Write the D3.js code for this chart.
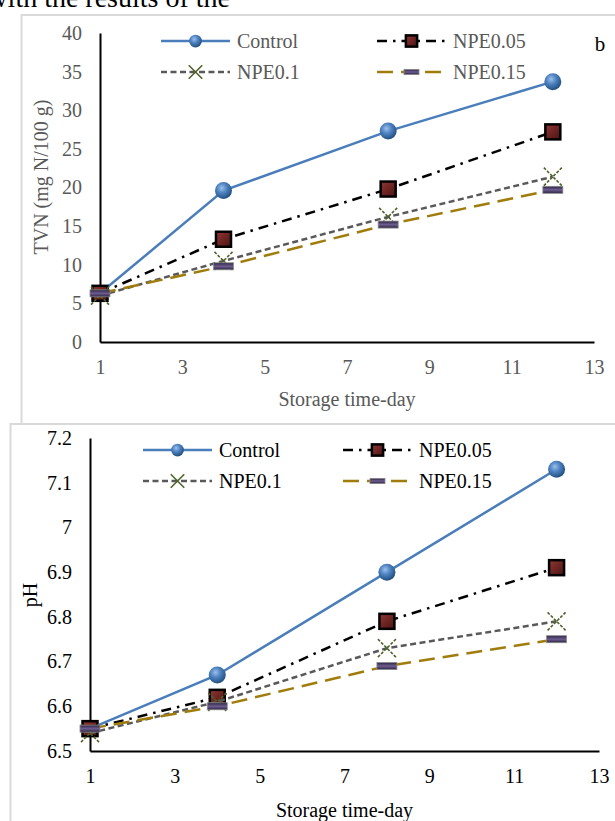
<!DOCTYPE html>
<html>
<head>
<meta charset="utf-8">
<script src="https://cdn.jsdelivr.net/npm/d3@7"></script>
<style>
  body { margin: 0; background: #fff; }
  svg { display: block; }
  svg text { font-family: "Liberation Serif", "Times New Roman", serif; }
</style>
</head>
<body>
<svg id="chart"></svg>
<script>
// data
const days = [1, 4, 8, 12];
const seriesNames = ['Control', 'NPE0.05', 'NPE0.1', 'NPE0.15'];
const xTicks = [1, 3, 5, 7, 9, 11, 13];

const tvnTicks = [0, 5, 10, 15, 20, 25, 30, 35, 40];
const tvnControl = [6.3, 19.6, 27.3, 33.7];
const tvnNpe005 = [6.3, 13.3, 19.8, 27.2];
const tvnNpe01 = [6.0, 10.5, 16.2, 21.4];
const tvnNpe015 = [6.3, 9.8, 15.2, 19.7];

const phTicks = [6.5, 6.6, 6.7, 6.8, 6.9, 7.0, 7.1, 7.2];
const phControl = [6.55, 6.67, 6.90, 7.13];
const phNpe005 = [6.55, 6.62, 6.79, 6.91];
const phNpe01 = [6.54, 6.61, 6.73, 6.79];
const phNpe015 = [6.55, 6.60, 6.69, 6.75];

const W = 615, H = 821;
const FONT = 'Liberation Serif, Times New Roman, serif';

const styles = [
  { color: '#4a7ebb', dash: null, marker: 'sphere' },
  { color: '#000000', dash: '10,6,2.5,6', marker: 'square' },
  { color: '#595959', dash: '6,3.5', marker: 'cross' },
  { color: '#a07c0c', dash: '16,8', marker: 'bar' }
];

const svg = d3.select('#chart').attr('width', W).attr('height', H);

// gradients for the 3d-looking markers
const defs = svg.append('defs');
const sg = defs.append('radialGradient').attr('id', 'sphereGrad')
  .attr('cx', '40%').attr('cy', '35%').attr('r', '65%');
sg.append('stop').attr('offset', '0%').attr('stop-color', '#9cc0ea');
sg.append('stop').attr('offset', '45%').attr('stop-color', '#4f83c2');
sg.append('stop').attr('offset', '100%').attr('stop-color', '#22507f');

const qg = defs.append('linearGradient').attr('id', 'squareGrad')
  .attr('x1', '0%').attr('y1', '0%').attr('x2', '100%').attr('y2', '100%');
qg.append('stop').attr('offset', '0%').attr('stop-color', '#8e3a36');
qg.append('stop').attr('offset', '50%').attr('stop-color', '#6e2422');
qg.append('stop').attr('offset', '100%').attr('stop-color', '#4a1414');

const bg = defs.append('linearGradient').attr('id', 'barGrad')
  .attr('x1', '0%').attr('y1', '0%').attr('x2', '0%').attr('y2', '100%');
bg.append('stop').attr('offset', '0%').attr('stop-color', '#2c2240');
bg.append('stop').attr('offset', '50%').attr('stop-color', '#6d5e90');
bg.append('stop').attr('offset', '100%').attr('stop-color', '#2c2240');

function drawMarker(g, type, cx, cy, small) {
  const k = small ? 0.75 : 1;
  if (type === 'sphere') {
    g.append('circle').attr('cx', cx).attr('cy', cy).attr('r', 8.5 * k)
      .attr('fill', 'url(#sphereGrad)');
  } else if (type === 'square') {
    const s = 15 * k;
    g.append('rect').attr('x', cx - s / 2).attr('y', cy - s / 2)
      .attr('width', s).attr('height', s)
      .attr('fill', 'url(#squareGrad)').attr('stroke', '#000').attr('stroke-width', 2.5);
  } else if (type === 'cross') {
    const s = 9 * k;
    [[-1, -1, 1, 1], [-1, 1, 1, -1]].forEach(function (d) {
      g.append('line')
        .attr('x1', cx + d[0] * s).attr('y1', cy + d[1] * s)
        .attr('x2', cx + d[2] * s).attr('y2', cy + d[3] * s)
        .attr('stroke', '#4f6228').attr('stroke-width', 1.6)
        .attr('stroke-dasharray', small ? null : '3,1.5');
    });
  } else if (type === 'bar') {
    const w = 20 * k, h = 7 * k;
    g.append('rect').attr('x', cx - w / 2).attr('y', cy - h / 2)
      .attr('width', w).attr('height', h)
      .attr('fill', 'url(#barGrad)').attr('stroke', '#8a8a8a').attr('stroke-width', 0.8);
  }
}

function styleAxis(a, color) {
  a.attr('font-family', null).attr('font-size', null);
  a.select('.domain').attr('stroke', '#000').attr('stroke-width', 2);
  a.selectAll('text')
    .attr('fill', color)
    .style('font-family', FONT)
    .style('font-size', '20px');
}

function drawPanel(p) {
  // panel frame
  svg.append('rect')
    .attr('x', p.frame[0]).attr('y', p.frame[1])
    .attr('width', 800).attr('height', 600)
    .attr('fill', '#fff').attr('stroke', '#d9d9d9').attr('stroke-width', 2);

  const g = svg.append('g');

  const x = d3.scaleLinear().domain([1, 13]).range([p.x0, p.x1]);
  const y = d3.scaleLinear().domain(p.yDomain).range([p.y0, p.y1]);

  // Add X axis
  const xa = g.append('g')
    .attr('transform', 'translate(0,' + p.y0 + ')')
    .call(d3.axisBottom(x).tickValues(xTicks).tickSize(0).tickSizeOuter(0).tickPadding(18));
  styleAxis(xa, p.textColor);

  // Add Y axis
  const ya = g.append('g')
    .attr('transform', 'translate(' + p.x0 + ',0)')
    .call(d3.axisLeft(y).tickValues(p.yTicks).tickFormat(p.tickFormat)
      .tickSize(0).tickSizeOuter(0).tickPadding(18));
  styleAxis(ya, p.textColor);

  g.append('text')
    .attr('x', (p.x0 + p.x1) / 2).attr('y', p.xTitleY)
    .attr('text-anchor', 'middle').attr('dominant-baseline', 'central')
    .attr('fill', p.textColor).style('font-size', '20px')
    .text('Storage time-day');

  g.append('text')
    .attr('transform', 'translate(' + p.yTitleX + ',' + p.yTitleY + ') rotate(-90)')
    .attr('text-anchor', 'middle').attr('dominant-baseline', 'central')
    .attr('fill', p.textColor).style('font-size', '20px')
    .text(p.yTitle);

  // series lines + markers
  p.series.forEach(function (vals, i) {
    const st = styles[i];
    const pts = days.map(function (d, j) { return [d, vals[j]]; });
    g.append('path')
      .datum(pts)
      .attr('fill', 'none')
      .attr('stroke', st.color)
      .attr('stroke-width', 2.5)
      .attr('stroke-dasharray', st.dash)
      .attr('d', d3.line().x(function (d) { return x(d[0]); }).y(function (d) { return y(d[1]); }));
    pts.forEach(function (d) { drawMarker(g, st.marker, x(d[0]), y(d[1]), false); });
  });

  // legend
  const lg = g.append('g');
  seriesNames.forEach(function (name, i) {
    const st = styles[i];
    const lx = p.legendX[i % 2], ly = p.legendY[Math.floor(i / 2)];
    lg.append('line')
      .attr('x1', lx).attr('x2', lx + 69).attr('y1', ly).attr('y2', ly)
      .attr('stroke', st.color).attr('stroke-width', 2.5)
      .attr('stroke-dasharray', st.dash);
    drawMarker(lg, st.marker, lx + 34.5, ly, true);
    lg.append('text')
      .attr('x', lx + 76).attr('y', ly)
      .attr('dominant-baseline', 'central')
      .attr('fill', p.textColor).style('font-size', '20px')
      .text(name);
  });
}

// fragment of running text above the figure (cut by the page edge, as in the source)
svg.append('text')
  .attr('x', 230).attr('y', 7)
  .attr('text-anchor', 'end')
  .style('font-size', '28px')
  .attr('fill', '#000')
  .text('with the results of the');

drawPanel({
  frame: [21.5, 15],
  x0: 100, x1: 594, y0: 342, y1: 33,
  yDomain: [0, 40], yTicks: tvnTicks, tickFormat: d3.format('d'),
  textColor: '#595959',
  xTitleY: 399, yTitle: 'TVN (mg N/100 g)', yTitleX: 41, yTitleY: 177,
  series: [tvnControl, tvnNpe005, tvnNpe01, tvnNpe015],
  legendX: [161, 377], legendY: [41, 72]
});

svg.append('text')
  .attr('x', 600).attr('y', 50.5)
  .attr('text-anchor', 'middle')
  .style('font-size', '21px').attr('fill', '#000')
  .text('b');

drawPanel({
  frame: [10.5, 424],
  x0: 90, x1: 599, y0: 751, y1: 438,
  yDomain: [6.5, 7.2], yTicks: phTicks, tickFormat: function (d) { return String(+d.toFixed(1)); },
  textColor: '#000',
  xTitleY: 810, yTitle: 'pH', yTitleX: 30, yTitleY: 595,
  series: [phControl, phNpe005, phNpe01, phNpe015],
  legendX: [143, 343], legendY: [450, 481]
});
</script>
</body>
</html>
